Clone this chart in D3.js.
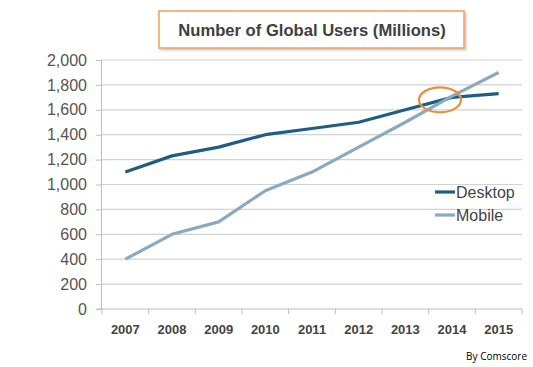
<!DOCTYPE html>
<html><head><meta charset="utf-8">
<script src="https://cdn.jsdelivr.net/npm/d3@7"></script>
<style>body{margin:0;background:#fff}svg{display:block}</style>
</head><body>
<script>
const years = ["2007","2008","2009","2010","2011","2012","2013","2014","2015"];
const desktop = [1100,1230,1300,1400,1450,1500,1600,1700,1730];
const mobile = [400,600,700,950,1100,1300,1500,1710,1900];
const yTicks = [0,200,400,600,800,1000,1200,1400,1600,1800,2000];
const seriesNames = ["Desktop","Mobile"];
const colors = ["#1d5e82","#8ba9bf"];
const title = "Number of Global Users (Millions)";
const credit = "By Comscore";

const W=533,H=367;
const svg=d3.select("body").append("svg").attr("width",W).attr("height",H);
const defs=svg.append("defs");
const f=defs.append("filter").attr("id","sh").attr("x","-10%").attr("y","-30%").attr("width","120%").attr("height","160%");
f.append("feDropShadow").attr("dx",1.5).attr("dy",1.5).attr("stdDeviation",1.2).attr("flood-color","#000").attr("flood-opacity",0.25);

const x=d3.scaleBand().domain(years).range([102,522]);
const y=d3.scaleLinear().domain([0,2000]).range([309,60]);

// gridlines
svg.append("g").selectAll("line").data(yTicks.filter(d=>d>0)).join("line")
 .attr("x1",101).attr("x2",522).attr("y1",d=>y(d)).attr("y2",d=>y(d))
 .attr("stroke","#d2d2d2").attr("stroke-width",1.2);

// y axis
const ya=svg.append("g").attr("transform","translate(101,0)")
 .call(d3.axisLeft(y).tickValues(yTicks).tickFormat(d3.format(",")).tickSize(5).tickPadding(9));
ya.select(".domain").attr("stroke","#bdbdbd");
ya.selectAll(".tick line").attr("stroke","#bdbdbd");
ya.selectAll("text").attr("font-family","Liberation Sans, Arial, sans-serif").attr("font-size",16).attr("fill","#555");

// x axis
const xa=svg.append("g").attr("transform","translate(0,309)")
 .call(d3.axisBottom(x).tickSize(0).tickPadding(16));
xa.select(".domain").attr("stroke","#bdbdbd").attr("d","M97,0H522");
xa.selectAll("text").attr("font-family","Liberation Sans, Arial, sans-serif").attr("font-size",13).attr("font-weight","bold").attr("fill","#444");
svg.append("g").selectAll("line").data(years.concat(["end"])).join("line")
 .attr("x1",(d,i)=>x.range()[0]+i*x.step()).attr("x2",(d,i)=>x.range()[0]+i*x.step())
 .attr("y1",309).attr("y2",314).attr("stroke","#bdbdbd");

// lines
const line=d3.line().x((d,i)=>x(years[i])+x.bandwidth()/2).y(d=>y(d));
[desktop,mobile].forEach((s,k)=>{
 svg.append("path").datum(s).attr("d",line).attr("fill","none")
  .attr("stroke",colors[k]).attr("stroke-width",3.2).attr("stroke-linejoin","round");
});

// highlight ellipse near crossover
svg.append("ellipse").attr("cx",x("2014")+x.bandwidth()/2-12).attr("cy",y(1680))
 .attr("rx",21).attr("ry",12.5).attr("fill","none").attr("stroke","#e8903a").attr("stroke-width",2.2);

// legend
const lg=svg.append("g");
seriesNames.forEach((n,k)=>{
 const yy=192+k*23;
 lg.append("line").attr("x1",435).attr("x2",455).attr("y1",yy).attr("y2",yy).attr("stroke",colors[k]).attr("stroke-width",3.2);
 lg.append("text").attr("x",456).attr("y",yy+5.5).text(n)
  .attr("font-family","Liberation Sans, Arial, sans-serif").attr("font-size",16).attr("fill","#444");
});

// title box
svg.append("rect").attr("x",159).attr("y",11).attr("width",305).attr("height",37)
 .attr("fill","#fff").attr("stroke","#f0a060").attr("stroke-width",1.5).attr("filter","url(#sh)");
svg.append("text").attr("x",312).attr("y",35.5).attr("text-anchor","middle").text(title)
 .attr("font-family","Liberation Sans, Arial, sans-serif").attr("font-size",16.6).attr("font-weight","bold").attr("fill","#404040");

svg.append("text").attr("x",527).attr("y",360).attr("text-anchor","end").text(credit)
 .attr("font-family","Open Sans, sans-serif").attr("font-size",10).attr("fill","#000");
</script>
</body></html>
